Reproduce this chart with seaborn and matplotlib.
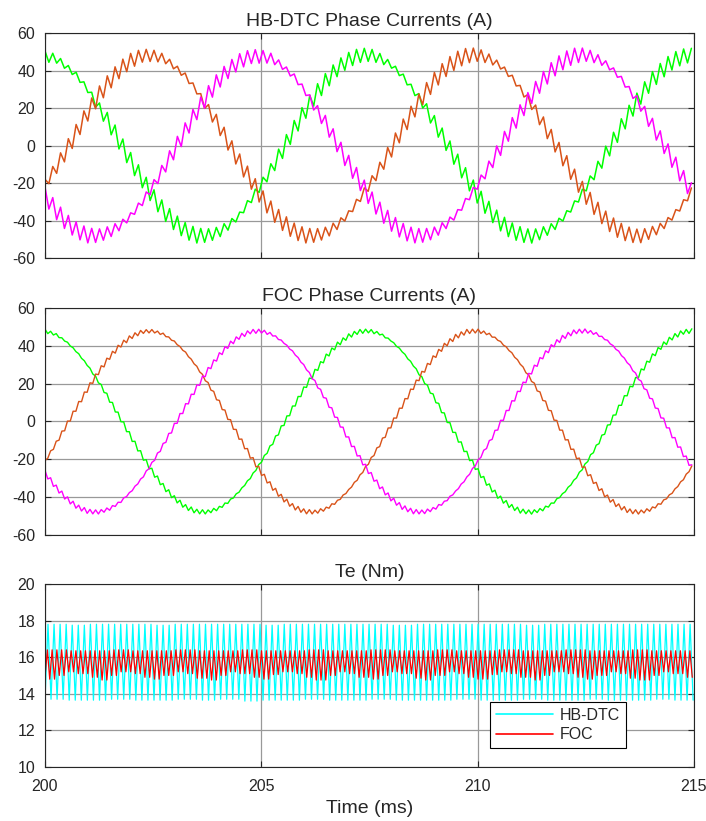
import numpy as np
import pandas as pd
import seaborn as sns
import matplotlib.pyplot as plt

# %% ---- data ----------------------------------------------
# centre line of each phase current, every 0.25 ms from 200 to 215 ms
t_c = np.arange(200.0, 215.001, 0.25)

dtc_a = [47.5, 46.5, 42.0, 37.0, 29.5, 20.0, 11.5, 1.0, -9.0, -18.0,
         -27.5, -35.0, -41.0, -45.5, -48.0, -48.0, -46.5, -42.5, -37.0, -29.0,
         -21.0, -12.0, -2.0, 8.5, 18.0, 27.0, 34.5, 41.0, 45.5, 48.0,
         48.5, 46.5, 43.0, 37.5, 30.0, 22.0, 12.0, 2.5, -7.5, -17.5,
         -26.5, -34.0, -40.5, -45.0, -47.5, -48.5, -46.5, -43.5, -38.0, -31.0,
         -22.5, -13.0, -3.0, 7.0, 17.0, 26.0, 34.0, 40.0, 45.0, 47.5, 48.5]
dtc_b = [-20.5, -12.0, -2.5, 8.0, 18.0, 27.0, 34.5, 41.0, 45.5, 48.0,
         48.0, 46.5, 42.0, 37.0, 29.5, 20.0, 11.5, 1.0, -9.0, -18.0,
         -27.5, -35.0, -41.0, -45.5, -48.0, -48.0, -46.5, -42.5, -37.0, -29.0,
         -21.0, -12.0, -2.0, 8.5, 18.0, 27.0, 34.5, 41.0, 45.5, 48.0,
         48.5, 46.5, 43.0, 37.5, 30.0, 22.0, 12.0, 2.5, -7.5, -17.5,
         -26.5, -34.0, -40.5, -45.0, -47.5, -48.5, -46.5, -43.5, -38.0, -31.0, -22.5]
dtc_c = [-26.5, -34.5, -41.0, -45.5, -48.0, -48.0, -46.0, -42.5, -37.0, -30.0,
         -21.5, -12.0, -2.0, 8.0, 18.0, 26.5, 34.5, 40.5, 45.0, 47.5,
         47.5, 46.5, 42.0, 37.0, 29.5, 20.0, 11.5, 1.0, -9.0, -18.0,
         -27.5, -35.0, -41.0, -45.5, -48.0, -48.0, -46.5, -42.5, -37.0, -29.0,
         -21.0, -12.0, -2.0, 8.5, 18.0, 27.0, 34.5, 41.0, 45.5, 48.0,
         48.5, 46.5, 43.0, 37.5, 30.0, 22.0, 12.0, 2.5, -7.5, -17.5, -26.5]

foc_a = [47.8, 46.0, 42.1, 36.4, 29.2, 20.6, 11.2, 1.3, -8.7, -18.3,
         -27.1, -34.7, -40.8, -45.2, -47.6, -47.9, -46.1, -42.4, -36.8, -29.7,
         -21.2, -11.8, -1.9, 8.1, 17.7, 26.6, 34.3, 40.5, 44.9, 47.5,
         47.9, 46.3, 42.7, 37.2, 30.1, 21.7, 12.4, 2.5, -7.5, -17.1,
         -26.0, -33.8, -40.2, -44.7, -47.4, -48.0, -46.5, -43.0, -37.6, -30.6,
         -22.3, -13.0, -3.1, 6.9, 16.6, 25.5, 33.4, 39.8, 44.5, 47.3, 48.0]
foc_b = [-21.2, -11.8, -1.9, 8.1, 17.7, 26.6, 34.3, 40.5, 44.9, 47.5,
         47.8, 46.0, 42.1, 36.4, 29.2, 20.6, 11.2, 1.3, -8.7, -18.3,
         -27.1, -34.7, -40.8, -45.2, -47.6, -47.9, -46.1, -42.4, -36.8, -29.7,
         -21.2, -11.8, -1.9, 8.1, 17.7, 26.6, 34.3, 40.5, 44.9, 47.5,
         47.9, 46.3, 42.7, 37.2, 30.1, 21.7, 12.4, 2.5, -7.5, -17.1,
         -26.0, -33.8, -40.2, -44.7, -47.4, -48.0, -46.5, -43.0, -37.6, -30.6, -22.3]
foc_c = [-27.1, -34.7, -40.8, -45.2, -47.6, -47.9, -46.1, -42.4, -36.8, -29.7,
         -21.2, -11.8, -1.9, 8.1, 17.7, 26.6, 34.3, 40.5, 44.9, 47.5,
         47.8, 46.0, 42.1, 36.4, 29.2, 20.6, 11.2, 1.3, -8.7, -18.3,
         -27.1, -34.7, -40.8, -45.2, -47.6, -47.9, -46.1, -42.4, -36.8, -29.7,
         -21.2, -11.8, -1.9, 8.1, 17.7, 26.6, 34.3, 40.5, 44.9, 47.5,
         47.9, 46.3, 42.7, 37.2, 30.1, 21.7, 12.4, 2.5, -7.5, -17.1, -26.0]

# peak-to-peak ripple of each phase, every 0.5 ms
t_r = np.arange(200.0, 215.001, 0.5)
rip_dtc_a = [6, 3, 3, 9, 9, 9, 9, 8, 6, 3, 5, 9, 9, 9, 8, 7,
             3, 3, 8, 9, 9, 9, 8, 6, 3, 4, 9, 9, 9, 9, 7]
rip_dtc_b = [5, 9, 9, 9, 8, 6, 3, 3, 8, 9, 9, 9, 8, 6, 3, 5,
             9, 9, 9, 9, 7, 3, 3, 8, 9, 9, 9, 8, 6, 3, 4]
rip_dtc_c = [9, 9, 8, 6, 3, 5, 9, 9, 9, 8, 7, 3, 3, 8, 9, 9,
             9, 8, 6, 3, 4, 9, 9, 9, 9, 7, 3, 3, 8, 9, 9]
rip_foc_a = [2.0, 0.5, 0.6, 2.4, 2.6, 2.6, 2.6, 2.4, 1.6, 0.5, 1.0, 2.4, 2.6, 2.6, 2.4, 2.0,
             0.5, 0.6, 2.2, 2.6, 2.6, 2.6, 2.4, 1.6, 0.5, 1.0, 2.4, 2.6, 2.6, 2.6, 2.2]
rip_foc_b = [1.2, 2.6, 2.6, 2.6, 2.4, 1.6, 0.5, 0.6, 2.2, 2.6, 2.6, 2.6, 2.4, 1.6, 0.5, 1.2,
             2.6, 2.6, 2.6, 2.6, 2.0, 0.5, 0.6, 2.2, 2.6, 2.6, 2.6, 2.4, 1.6, 0.5, 1.0]
rip_foc_c = [2.6, 2.6, 2.4, 1.6, 0.5, 1.2, 2.6, 2.6, 2.6, 2.4, 2.0, 0.5, 0.6, 2.2, 2.6, 2.6,
             2.6, 2.4, 1.6, 0.5, 1.0, 2.6, 2.6, 2.6, 2.6, 2.0, 0.5, 0.6, 2.2, 2.6, 2.6]

# torque band limits, every 0.5 ms (FOC lower edge every 0.25 ms)
te_dtc_hi = [17.8, 17.8, 17.75, 17.8, 17.8, 17.8, 17.75, 17.8, 17.8, 17.8, 17.8,
             17.75, 17.8, 17.8, 17.8, 17.8, 17.8, 17.75, 17.8, 17.8, 17.8,
             17.8, 17.8, 17.75, 17.8, 17.8, 17.8, 17.8, 17.8, 17.8, 17.8]
te_dtc_lo = [13.65, 13.7, 13.65, 13.65, 13.7, 13.65, 13.65, 13.7, 13.65, 13.7, 13.6,
             13.65, 13.65, 13.7, 13.65, 13.65, 13.7, 13.65, 13.65, 13.65, 13.7,
             13.65, 13.65, 13.7, 13.65, 13.65, 13.7, 13.65, 13.65, 13.7, 13.65]
te_foc_hi = [16.35, 16.4, 16.35, 16.35, 16.4, 16.35, 16.35, 16.4, 16.35, 16.35, 16.4,
             16.35, 16.35, 16.4, 16.35, 16.35, 16.4, 16.35, 16.35, 16.4, 16.35,
             16.35, 16.4, 16.35, 16.35, 16.4, 16.35, 16.35, 16.4, 16.35, 16.35]
te_foc_lo = [14.9, 14.8, 15.0, 15.2, 15.1, 14.9, 14.75, 15.0, 15.2, 15.1,
             14.9, 14.8, 15.0, 15.2, 15.1, 14.85, 14.75, 15.0, 15.2, 15.1,
             14.9, 14.8, 15.05, 15.2, 15.1, 14.9, 14.75, 15.0, 15.2, 15.1,
             14.9, 14.8, 15.0, 15.2, 15.1, 14.85, 14.75, 15.0, 15.2, 15.1,
             14.9, 14.8, 15.05, 15.2, 15.1, 14.9, 14.75, 15.0, 15.2, 15.1,
             14.9, 14.8, 15.0, 15.2, 15.1, 14.85, 14.75, 15.0, 15.2, 15.1, 14.9]

phase_colors = {'a': '#00ff00', 'b': '#d95319', 'c': '#ff00ff'}


# %% ---- helpers ------------------------
def ripple_trace(center, ripple, half):
    """zig-zag between centre +/- ripple/2, one vertex every half period"""
    tv = np.arange(200.0, 215.0 + 1e-9, half)
    c = np.interp(tv, t_c, center)
    r = np.interp(tv, t_r, ripple)
    s = np.where(np.arange(len(tv)) % 2 == 0, 1.0, -1.0)
    return tv, c + s * r / 2


def band_trace(hi, lo, t_hi, t_lo, half):
    tv = np.arange(200.0, 215.0 + 1e-9, half)
    h = np.asarray(hi)[np.clip(np.searchsorted(t_hi, tv), 0, len(hi) - 1)]
    l = np.asarray(lo)[np.clip(np.searchsorted(t_lo, tv), 0, len(lo) - 1)]
    v = np.where(np.arange(len(tv)) % 2 == 0, l, h)
    return tv, v


def phase_frame(series, half):
    dfs = []
    for name, (center, rip) in series.items():
        tv, v = ripple_trace(center, rip, half)
        dfs.append(pd.DataFrame({'t': tv, 'i': v, 'phase': name}))
    return pd.concat(dfs, ignore_index=True)


df_dtc = phase_frame({'a': (dtc_a, rip_dtc_a), 'b': (dtc_b, rip_dtc_b),
                      'c': (dtc_c, rip_dtc_c)}, 0.09)
df_foc = phase_frame({'a': (foc_a, rip_foc_a), 'b': (foc_b, rip_foc_b),
                      'c': (foc_c, rip_foc_c)}, 0.065)

t_half = np.arange(200.0, 215.001, 0.5)
tq_d, v_d = band_trace(te_dtc_hi, te_dtc_lo, t_half, t_half, 0.07)
tq_f, v_f = band_trace(te_foc_hi, te_foc_lo, t_half, t_c, 0.055)
df_te = pd.concat([pd.DataFrame({'t': tq_d, 'te': v_d, 'ctrl': 'HB-DTC'}),
                   pd.DataFrame({'t': tq_f, 'te': v_f, 'ctrl': 'FOC'})],
                  ignore_index=True)

# %% ---- graph ------------------------
sns.set_style('ticks')
plt.rcParams['font.family'] = ['Liberation Sans', 'DejaVu Sans']
plt.rcParams['axes.edgecolor'] = '#262626'
plt.rcParams['axes.linewidth'] = 0.8
plt.rcParams['axes.unicode_minus'] = False

fig = plt.figure(figsize=(7.06, 8.21), dpi=100)
ax1 = fig.add_axes([0.0637, 0.6857, 0.9193, 0.2740])
ax2 = fig.add_axes([0.0637, 0.3484, 0.9193, 0.2765])
ax3 = fig.add_axes([0.0637, 0.0658, 0.9193, 0.2229])

sns.lineplot(df_dtc, x='t', y='i', hue='phase', palette=phase_colors,
             estimator=None, sort=False, lw=1.1, legend=False, ax=ax1)
sns.lineplot(df_foc, x='t', y='i', hue='phase', palette=phase_colors,
             estimator=None, sort=False, lw=1.0, legend=False, ax=ax2)
sns.lineplot(df_te, x='t', y='te', hue='ctrl',
             palette={'HB-DTC': '#00ffff', 'FOC': '#ff0000'},
             estimator=None, sort=False, lw=0.9, ax=ax3)

titles = ['HB-DTC Phase Currents (A)', 'FOC Phase Currents (A)', 'Te (Nm)']
for ax, title in zip([ax1, ax2, ax3], titles):
    ax.set_xlim(200, 215)
    ax.set_xticks([200, 205, 210, 215])
    ax.grid(True, color='#999999', lw=0.9)
    ax.set_axisbelow(True)
    ax.tick_params(direction='in', top=True, right=True, length=4,
                   width=0.8, labelsize=11.5, colors='#262626')
    ax.tick_params(axis='y', pad=7)
    ax.tick_params(axis='x', pad=9)
    ax.set_title(title, fontsize=14, pad=5)
    ax.set_xlabel('')
    ax.set_ylabel('')
    for sp in ax.spines.values():
        sp.set_visible(True)

for ax in [ax1, ax2]:
    ax.set_ylim(-60, 60)
    ax.set_yticks(range(-60, 61, 20))
    ax.tick_params(labelbottom=False)

ax3.set_ylim(10, 20)
ax3.set_yticks(range(10, 21, 2))
ax3.set_xlabel('Time (ms)', fontsize=14, labelpad=4)

leg = ax3.legend(loc='lower left', bbox_to_anchor=(0.686, 0.104),
                 borderaxespad=0, frameon=True, fancybox=False, framealpha=1,
                 edgecolor='black', fontsize=11.5, handlelength=3.6,
                 borderpad=0.35, labelspacing=0.3, handletextpad=0.4)
leg.get_frame().set_linewidth(0.8)
for line in leg.get_lines():
    line.set_linewidth(1.2)

fig.savefig('out.png', dpi=100)
